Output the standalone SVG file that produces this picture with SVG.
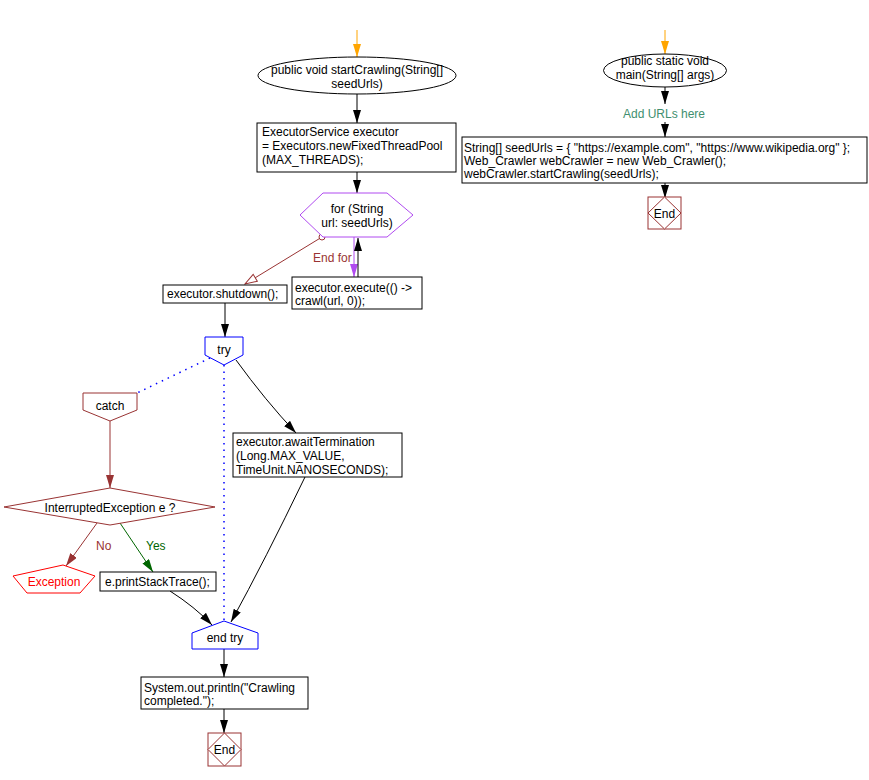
<svg xmlns="http://www.w3.org/2000/svg" width="869" height="780" viewBox="0 0 869 780">
<defs>
<marker id="ab" markerUnits="userSpaceOnUse" markerWidth="13" markerHeight="8" refX="13" refY="4" orient="auto" viewBox="0 0 13 8"><path d="M0,0 L13,4 L0,8 Z" fill="#000"/></marker>
<marker id="ao" markerUnits="userSpaceOnUse" markerWidth="13" markerHeight="8" refX="13" refY="4" orient="auto" viewBox="0 0 13 8"><path d="M0,0 L13,4 L0,8 Z" fill="#ffa500"/></marker>
<marker id="ap" markerUnits="userSpaceOnUse" markerWidth="13" markerHeight="8" refX="13" refY="4" orient="auto" viewBox="0 0 13 8"><path d="M0,0 L13,4 L0,8 Z" fill="#b04bf0"/></marker>
<marker id="ar" markerUnits="userSpaceOnUse" markerWidth="13" markerHeight="8" refX="13" refY="4" orient="auto" viewBox="0 0 13 8"><path d="M0,0 L13,4 L0,8 Z" fill="#993333"/></marker>
<marker id="ag" markerUnits="userSpaceOnUse" markerWidth="13" markerHeight="8" refX="13" refY="4" orient="auto" viewBox="0 0 13 8"><path d="M0,0 L13,4 L0,8 Z" fill="#006600"/></marker>
<marker id="aopen" markerUnits="userSpaceOnUse" markerWidth="14" markerHeight="10" refX="12" refY="4" orient="auto" viewBox="-1 -1 14 10"><path d="M0,0 L12,4 L0,8 Z" fill="#fff" stroke="#993333" stroke-width="1"/></marker>
<marker id="circ" markerUnits="userSpaceOnUse" markerWidth="8" markerHeight="8" refX="4" refY="4" viewBox="0 0 8 8"><circle cx="4" cy="4" r="3" fill="#fff" stroke="#993333" stroke-width="1"/></marker>
</defs>
<style>
text{font-family:"Liberation Sans",Arial,sans-serif;font-size:12px;fill:#000}
.c{text-anchor:middle}
.box{fill:#fff;stroke:#000;stroke-width:1}
.blue{fill:#fff;stroke:#0000ff;stroke-width:1}
.red{fill:#fff;stroke:#993333;stroke-width:1}
.ln{fill:none;stroke:#000;stroke-width:1}
</style>
<g id="connectors">
<path class="ln" d="M357,30 V57" style="stroke:#ffa500" marker-end="url(#ao)"/>
<path class="ln" d="M357,94 V123" marker-end="url(#ab)"/>
<path class="ln" d="M357,172 V193" marker-end="url(#ab)"/>
<path d="M322,237 L245,284" fill="none" stroke="#993333" marker-start="url(#circ)" marker-end="url(#aopen)"/>
<path d="M354,237 V277" fill="none" stroke="#b04bf0" marker-end="url(#ap)"/>
<path class="ln" d="M358,277 V238" marker-end="url(#ab)"/>
<path class="ln" d="M225,303 V337" marker-end="url(#ab)"/>
<path d="M210,358 L137,393" fill="none" stroke="#0000ff" stroke-dasharray="1.5,5" stroke-width="1.5"/>
<path d="M224,365 V620" fill="none" stroke="#0000ff" stroke-dasharray="1.5,5" stroke-width="1.5"/>
<path class="ln" d="M236,360 Q265,400 296,433" marker-end="url(#ab)"/>
<path d="M110,421 V488" fill="none" stroke="#993333" marker-end="url(#ar)"/>
<path d="M97,523 L66,566" fill="none" stroke="#993333" marker-end="url(#ar)"/>
<path d="M120,523 L153,572" fill="none" stroke="#006600" marker-end="url(#ag)"/>
<path class="ln" d="M170,591 Q195,607 212,625" marker-end="url(#ab)"/>
<path class="ln" d="M305,477 Q265,560 231,622" marker-end="url(#ab)"/>
<path class="ln" d="M224,649 V677" marker-end="url(#ab)"/>
<path class="ln" d="M224,709 V733" marker-end="url(#ab)"/>
<path class="ln" d="M665,30 V54" style="stroke:#ffa500" marker-end="url(#ao)"/>
<path class="ln" d="M665,87 V104" marker-end="url(#ab)"/>
<path class="ln" d="M665,122 V137" marker-end="url(#ab)"/>
<path class="ln" d="M665,183 V198" marker-end="url(#ab)"/>
<text x="313" y="262" style="fill:#993333">End for</text>
<text x="96" y="550" style="fill:#993333">No</text>
<text x="146" y="550" style="fill:#006600">Yes</text>
<text x="664" y="118" class="c" style="fill:#3f8f6f">Add URLs here</text>
</g>
<g id="start1">
<ellipse cx="357" cy="75.5" rx="99" ry="18.5" class="box"/>
<text x="357" y="74" class="c">public void startCrawling(String[]</text>
<text x="357" y="88" class="c">seedUrls)</text>
</g>
<g id="executorInit">
<rect x="257" y="123" width="199" height="49" class="box"/>
<text x="262" y="136">ExecutorService executor</text>
<text x="262" y="150">= Executors.newFixedThreadPool</text>
<text x="262" y="164">(MAX_THREADS);</text>
</g>
<g id="forLoop">
<polygon points="300,215 323,193 387,193 413,215 387,237 323,237" fill="#fff" stroke="#b04bf0"/>
<text x="357" y="213" class="c">for (String</text>
<text x="357" y="227" class="c">url: seedUrls)</text>
</g>
<g id="execute">
<rect x="292" y="277" width="130" height="32" class="box"/>
<text x="295" y="292">executor.execute(() -&gt;</text>
<text x="295" y="305">crawl(url, 0));</text>
</g>
<g id="shutdown">
<rect x="163" y="285" width="124" height="18" class="box"/>
<text x="167" y="298">executor.shutdown();</text>
</g>
<g id="try">
<polygon points="205,337 243,337 243,355 224,365 205,355" class="blue"/>
<text x="224" y="354" class="c">try</text>
</g>
<g id="catch">
<polygon points="83,393 137,393 137,410 110,421 83,410" class="red"/>
<text x="110" y="410" class="c">catch</text>
</g>
<g id="await">
<rect x="233" y="433" width="169" height="44" class="box"/>
<text x="236" y="446">executor.awaitTermination</text>
<text x="236" y="460">(Long.MAX_VALUE,</text>
<text x="236" y="474">TimeUnit.NANOSECONDS);</text>
</g>
<g id="decision">
<polygon points="4,507 110,488 215,507 110,525" class="red"/>
<text x="110" y="512" class="c">InterruptedException e ?</text>
</g>
<g id="exception">
<polygon points="13,576 63,565 95,576 80,593 27,593" fill="#fff" stroke="#ff0000"/>
<text x="54" y="586" class="c" style="fill:#ff0000">Exception</text>
</g>
<g id="printStack">
<rect x="100" y="572" width="116" height="19" class="box"/>
<text x="105" y="586">e.printStackTrace();</text>
</g>
<g id="endTry">
<polygon points="192,633 224,621 258,633 258,649 192,649" class="blue"/>
<text x="225" y="642" class="c">end try</text>
</g>
<g id="println">
<rect x="141" y="677" width="167" height="32" class="box"/>
<text x="144" y="692">System.out.println("Crawling</text>
<text x="144" y="705">completed.");</text>
</g>
<g id="end1">
<rect x="208" y="733" width="33" height="33" class="red"/>
<polygon points="208,749.5 224.5,733 241,749.5 224.5,766" class="red"/>
<text x="224.5" y="754" class="c">End</text>
</g>
<g id="start2">
<ellipse cx="665" cy="70.5" rx="61.5" ry="16.5" class="box"/>
<text x="665" y="65" class="c">public static void</text>
<text x="665" y="79" class="c">main(String[] args)</text>
</g>
<g id="mainBody">
<rect x="462" y="137" width="405" height="46" class="box"/>
<text x="464" y="152">String[] seedUrls = { "https://example.com", "https://www.wikipedia.org" };</text>
<text x="464" y="165">Web_Crawler webCrawler = new Web_Crawler();</text>
<text x="464" y="178">webCrawler.startCrawling(seedUrls);</text>
</g>
<g id="end2">
<rect x="648" y="197" width="33" height="32" class="red"/>
<polygon points="648,213 664.5,197 681,213 664.5,229" class="red"/>
<text x="664.5" y="217.5" class="c">End</text>
</g>
</svg>
